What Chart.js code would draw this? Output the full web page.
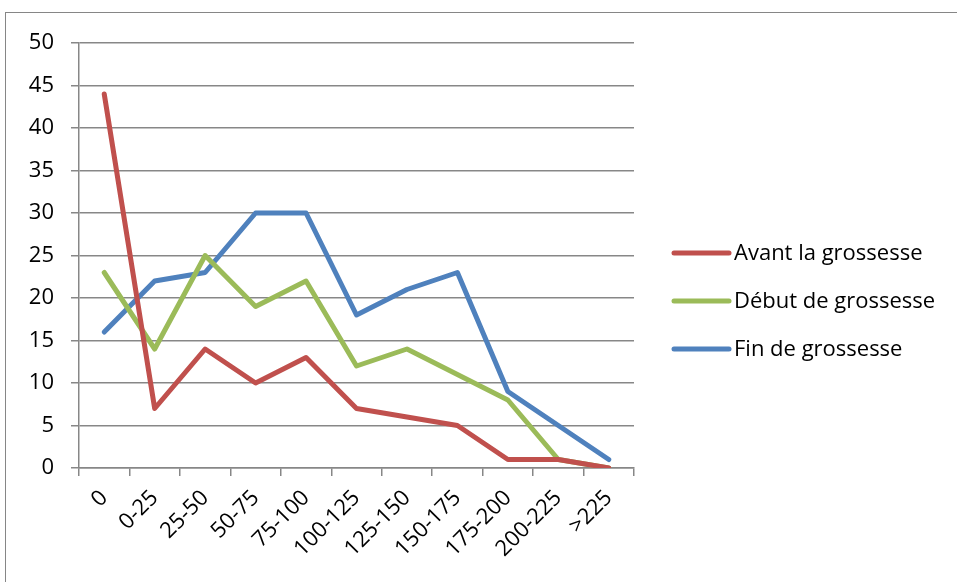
<!DOCTYPE html>
<html>
<head>
<meta charset="utf-8">
<script src="https://cdn.jsdelivr.net/npm/chart.js@4/dist/chart.umd.min.js"></script>
<style>
  body { margin: 0; background: #fff; overflow: hidden; }
  .cadre { position: absolute; left: 5px; top: 12px; width: 1000px; height: 700px; border: 1.5px solid #868686; }
  .zone { position: absolute; left: 0; top: 0; width: 957px; height: 582px; }
</style>
</head>
<body>
<div class="cadre"></div>
<div class="zone"><canvas id="graphique"></canvas></div>
<script>
const categories = ["0", "0-25", "25-50", "50-75", "75-100", "100-125", "125-150", "150-175", "175-200", "200-225", ">225"];
const avant = [44, 7, 14, 10, 13, 7, 6, 5, 1, 1, 0];
const debut = [23, 14, 25, 19, 22, 12, 14, 11, 8, 1, 0];
const fin = [16, 22, 23, 30, 30, 18, 21, 23, 9, 5, 1];

const police = "'Open Sans', Lato, sans-serif";

function serie(nom, valeurs, couleur) {
  return {
    label: nom,
    data: valeurs,
    borderColor: couleur,
    backgroundColor: couleur,
    borderWidth: 5,
    pointRadius: 0,
    tension: 0,
    borderJoinStyle: "round",
    borderCapStyle: "round"
  };
}

// legende a droite, dessinee a la main (lignes + texte)
const legendeDroite = {
  id: "legendeDroite",
  afterDraw(chart) {
    const ctx = chart.ctx;
    const x0 = chart.chartArea.right + 40;
    const yMilieu = 301;
    const ecart = 48;
    const n = chart.data.datasets.length;
    ctx.save();
    ctx.font = "22px " + police;
    ctx.textBaseline = "middle";
    ctx.fillStyle = "#000";
    chart.data.datasets.forEach((ds, i) => {
      const y = yMilieu + (i - (n - 1) / 2) * ecart;
      ctx.strokeStyle = ds.borderColor;
      ctx.lineWidth = 5;
      ctx.lineCap = "round";
      ctx.beginPath();
      ctx.moveTo(x0, y);
      ctx.lineTo(x0 + 55, y);
      ctx.stroke();
      ctx.fillText(ds.label, x0 + 60, y + 1);
    });
    ctx.restore();
  }
};

new Chart(document.getElementById("graphique"), {
  type: "line",
  data: {
    labels: categories,
    datasets: [
      serie("Avant la grossesse", avant, "#C0504D"),
      serie("Début de grossesse", debut, "#9BBB59"),
      serie("Fin de grossesse", fin, "#4F81BD")
    ]
  },
  options: {
    responsive: true,
    maintainAspectRatio: false,
    animation: false,
    layout: { padding: { left: 0, top: 43, right: 323, bottom: 0 } },
    plugins: {
      tooltip: { enabled: false },
      legend: { display: false }
    },
    scales: {
      x: {
        offset: true,
        afterFit: (s) => { s.height = 114; },
        grid: { display: true, drawOnChartArea: false, offset: true, color: "#878787", lineWidth: 1.5, tickLength: 8 },
        border: { color: "#878787", width: 1.5 },
        ticks: { color: "#000", font: { family: police, size: 22 }, minRotation: 45, maxRotation: 45, padding: 9 }
      },
      y: {
        min: 0,
        max: 50,
        afterFit: (s) => { s.width = 79; },
        ticks: { stepSize: 5, color: "#000", font: { family: police, size: 22 }, padding: 17 },
        grid: { color: "#878787", lineWidth: 1.5, tickLength: 8 },
        border: { color: "#878787", width: 1.5 }
      }
    }
  },
  plugins: [legendeDroite]
});
</script>
</body>
</html>
